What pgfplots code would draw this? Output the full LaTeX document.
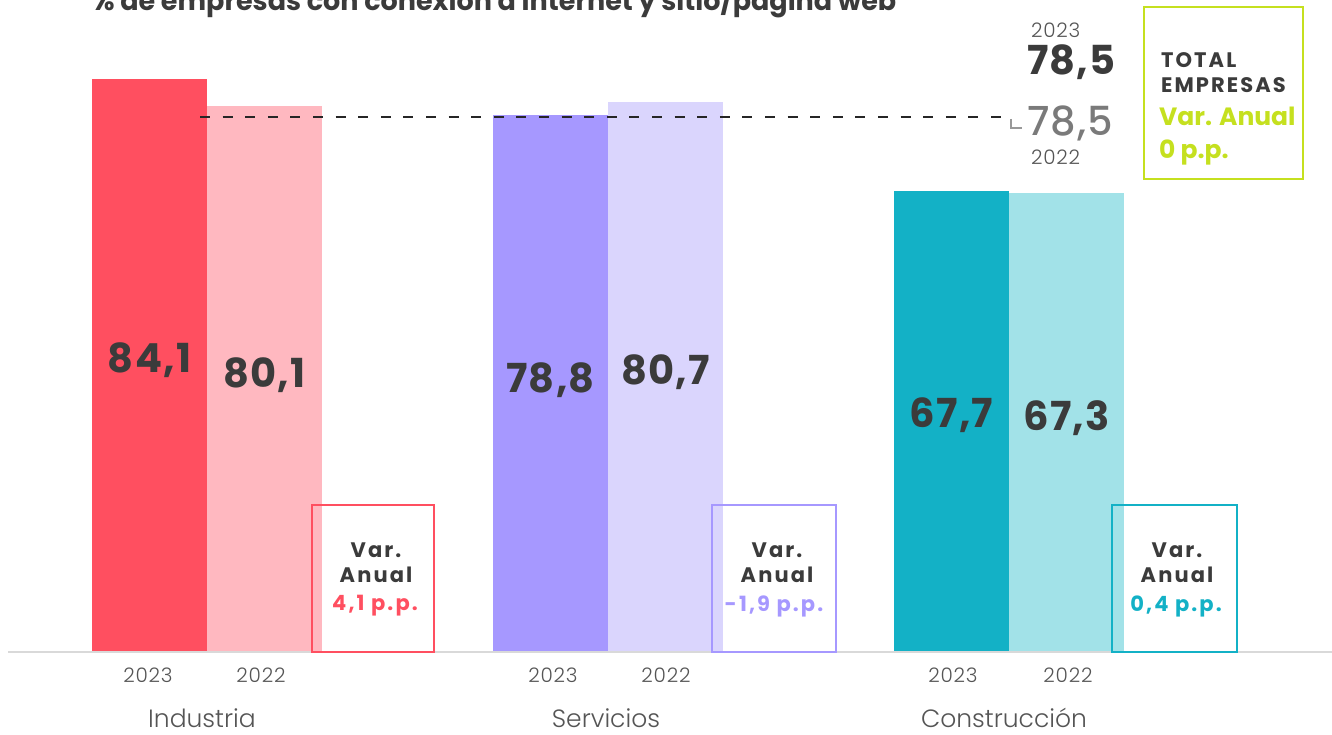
\documentclass[border=0pt]{standalone}
\usepackage{fontspec}
\setmainfont{Poppins}
\newfontfamily\lightfont{Poppins}[UprightFont=* Light]
\newfontfamily\medfont{Poppins}[UprightFont=* Medium]
\usepackage{pgfplots}
\pgfplotsset{compat=1.18}

\definecolor{indA}{RGB}{255,79,96}
\definecolor{indB}{RGB}{255,184,192}
\definecolor{serA}{RGB}{166,152,255}
\definecolor{serB}{RGB}{218,213,253}
\definecolor{conA}{RGB}{19,177,198}
\definecolor{conB}{RGB}{162,226,232}
\definecolor{lime}{RGB}{197,224,31}
\definecolor{txt}{RGB}{59,59,59}
\definecolor{soft}{RGB}{85,85,85}
\definecolor{mid}{RGB}{122,122,122}

\tikzset{
    valnum/.style={font=\bfseries\fontsize{20}{20}\selectfont\addfontfeature{LetterSpace=3}, text=txt},
    yr/.style={font=\lightfont\fontsize{10}{10}\selectfont\addfontfeature{LetterSpace=4}, text=soft},
    cat/.style={font=\lightfont\fontsize{12.5}{12.5}\selectfont, text=soft},
    varbox/.style={font=\bfseries\fontsize{10.5}{12.5}\selectfont\addfontfeature{LetterSpace=10}, text=txt, align=center},
}

% pixel row of the reference -> value on the y axis
\newcommand{\py}[1]{(652-#1)/6.813}

\begin{document}
\begin{tikzpicture}
\begin{axis}[
    scale only axis, width=666pt, height=367.5pt,
    xmin=0, xmax=1332, ymin=-12.18, ymax=95.70,
    hide axis, clip=false,
]
% bars: 2023 then 2022 for each sector
\addplot[ybar, bar shift=0pt, bar width=115, draw=none, fill=indA] coordinates {(149.5,84.1)};
\addplot[ybar, bar shift=0pt, bar width=115, draw=none, fill=indB] coordinates {(264.5,80.1)};
\addplot[ybar, bar shift=0pt, bar width=115, draw=none, fill=serA] coordinates {(550.5,78.8)};
\addplot[ybar, bar shift=0pt, bar width=115, draw=none, fill=serB] coordinates {(665.5,80.7)};
\addplot[ybar, bar shift=0pt, bar width=115, draw=none, fill=conA] coordinates {(951.5,67.7)};
\addplot[ybar, bar shift=0pt, bar width=115, draw=none, fill=conB] coordinates {(1066.5,67.3)};

% total reference line
\addplot[sharp plot, draw=black!85, line width=0.8pt, dash pattern=on 5pt off 6.3pt]
    coordinates {(200,78.5) (1008,78.5)};

% baseline
\draw[black!15, line width=1pt] (axis cs:8,0) -- (axis cs:1332,0);

% value labels
\node[valnum] at (axis cs:149.5,{\py{360}}) {84,1};
\node[valnum] at (axis cs:264.5,{\py{375}}) {80,1};
\node[valnum] at (axis cs:550.5,{\py{380}}) {78,8};
\node[valnum] at (axis cs:665.5,{\py{372}}) {80,7};
\node[valnum] at (axis cs:951.5,{\py{415}}) {67,7};
\node[valnum] at (axis cs:1066.5,{\py{418}}) {67,3};

% year labels
\node[yr] at (axis cs:148,{\py{675}}) {2023};
\node[yr] at (axis cs:261,{\py{675}}) {2022};
\node[yr] at (axis cs:553,{\py{675}}) {2023};
\node[yr] at (axis cs:666,{\py{675}}) {2022};
\node[yr] at (axis cs:953,{\py{675}}) {2023};
\node[yr] at (axis cs:1068,{\py{675}}) {2022};

% categories
\node[cat] at (axis cs:202,{\py{718}}) {Industria};
\node[cat] at (axis cs:606,{\py{718}}) {Servicios};
\node[cat] at (axis cs:1004,{\py{718}}) {Construcción};

% annual variation boxes
\draw[indA, line width=1pt] (axis cs:312,0) rectangle (axis cs:434,{\py{505}});
\draw[serA, line width=1pt] (axis cs:712,0) rectangle (axis cs:836,{\py{505}});
\draw[conA, line width=1pt] (axis cs:1112,0) rectangle (axis cs:1237,{\py{505}});
\node[varbox] at (axis cs:376,{\py{563}}) {Var.\\Anual};
\node[varbox] at (axis cs:777,{\py{563}}) {Var.\\Anual};
\node[varbox] at (axis cs:1177,{\py{563}}) {Var.\\Anual};
\node[varbox, text=indA] at (axis cs:375,{\py{606}}) {4,1 p.p.};
\node[varbox, text=serA] at (axis cs:774,{\py{606}}) {-1,9 p.p.};
\node[varbox, text=conA] at (axis cs:1176,{\py{606}}) {0,4 p.p.};

% total block
\node[yr, anchor=west] at (axis cs:1024,{\py{30}}) {2023};
\node[valnum, anchor=west] at (axis cs:1020,{\py{62}}) {78,5};
\draw[black!40, line width=0.6pt] (axis cs:1011,{\py{119}}) |- (axis cs:1022,{\py{128}});
\node[anchor=west, text=mid, font=\medfont\fontsize{20}{20}\selectfont\addfontfeature{LetterSpace=3}] at (axis cs:1020,{\py{123}}) {78,5};
\node[yr, anchor=west] at (axis cs:1024,{\py{157}}) {2022};
\draw[lime, line width=1pt] (axis cs:1144,{\py{7}}) rectangle (axis cs:1303,{\py{179}});
\node[varbox, anchor=west, align=left] at (axis cs:1154,{\py{73}}) {TOTAL\\EMPRESAS};
\node[anchor=west, text=lime, font=\bfseries\fontsize{12.5}{16.5}\selectfont, align=left]
    at (axis cs:1152,{\py{136}}) {Var. Anual\\0 p.p.};

% title (cut by the top edge, as in the source)
\node[anchor=base west, text=txt, font=\bfseries\fontsize{13.5}{13.5}\selectfont]
    at (axis cs:84,{\py{11}}) {\% de empresas con conexión a Internet y sitio/página web};
\end{axis}
\pgfresetboundingbox
\path[use as bounding box] (current axis.south west) rectangle (current axis.north east);
\end{tikzpicture}
\end{document}
